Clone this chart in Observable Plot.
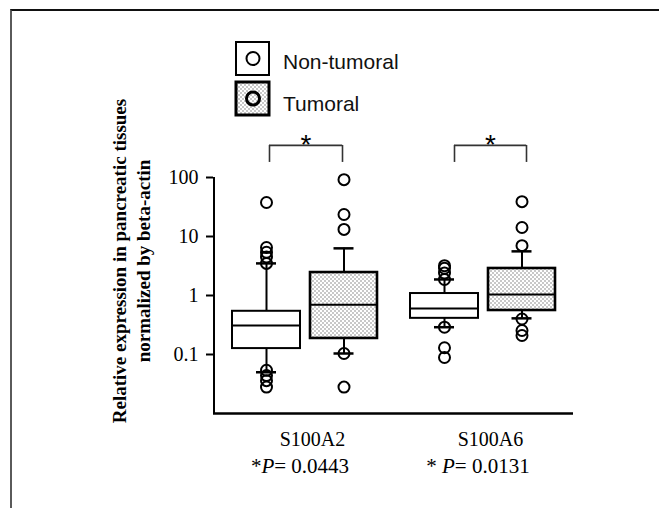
<!DOCTYPE html>
<html><head><meta charset="utf-8">
<script src="https://cdn.jsdelivr.net/npm/d3@7"></script>
<script src="https://cdn.jsdelivr.net/npm/@observablehq/plot@0.6"></script>
<style>
body{margin:0;background:#fff;}
#wrap{position:relative;width:659px;height:508px;overflow:hidden;font-family:"Liberation Serif","Times New Roman",serif;}
#frame{position:absolute;left:10px;top:9px;width:700px;height:600px;border-top:2px solid #111;border-left:2px solid #5a5a5a;box-sizing:border-box;}
#chart{position:absolute;left:0;top:0;}
#ylab{position:absolute;left:-78px;top:237px;width:420px;height:48px;transform:rotate(-90deg);text-align:center;font:bold 19px/24px "Liberation Serif","Times New Roman",serif;color:#000;white-space:nowrap;}
.leg{position:absolute;left:283px;font:21px "Liberation Sans",Arial,sans-serif;color:#111;line-height:21px;}
.pval{position:absolute;top:456px;font:21px/21px "Liberation Serif","Times New Roman",serif;transform:translateX(-50%);white-space:nowrap;}
#legsvg{position:absolute;left:230px;top:38px;}
</style></head><body>
<div id="wrap">
  <div id="frame"></div>
  <div id="chart"></div>
  <div id="ylab">Relative expression in pancreatic tissues<br>normalized by beta-actin</div>
  <svg id="legsvg" width="50" height="82"></svg>
  <div class="leg" id="leg0" style="top:51px"></div>
  <div class="leg" id="leg1" style="top:93px"></div>
</div>
<script>
// ---------- data ----------
const genes = ["S100A2", "S100A6"];
const pValues = ["0.0443", "0.0131"];
const pStars = ["*", "* "];
const tissues = ["Non-tumoral", "Tumoral"];
const yTicks = [100, 10, 1, 0.1];

// box statistics, one value per gene (S100A2, S100A6)
const nonQ1 = [0.126, 0.41];
const nonMedian = [0.31, 0.60];
const nonQ3 = [0.54, 1.08];
const nonLow = [0.05, 0.29];
const nonHigh = [3.5, 1.87];

const tumQ1 = [0.187, 0.557];
const tumMedian = [0.70, 1.04];
const tumQ3 = [2.45, 2.87];
const tumLow = [0.104, 0.41];
const tumHigh = [6.3, 5.6];

// individual points drawn as circles
const nonPointsA2 = [37.7, 6.5, 5.4, 4.5, 3.5, 0.054, 0.044, 0.036, 0.028];
const tumPointsA2 = [92, 23.6, 13.2, 0.104, 0.028];
const nonPointsA6 = [3.2, 2.9, 2.4, 1.87, 0.29, 0.13, 0.089];
const tumPointsA6 = [39, 14.2, 7.0, 0.40, 0.255, 0.21];

// significance bracket span (value units)
const bracketLow = 180;
const bracketHigh = 350;
const bracketLabel = "*";

// ---------- tables ----------
const boxes = [];
genes.forEach((g, i) => {
  boxes.push({gene: g, tissue: tissues[0], q1: nonQ1[i], median: nonMedian[i], q3: nonQ3[i], lo: nonLow[i], hi: nonHigh[i]});
  boxes.push({gene: g, tissue: tissues[1], q1: tumQ1[i], median: tumMedian[i], q3: tumQ3[i], lo: tumLow[i], hi: tumHigh[i]});
});
const points = [];
nonPointsA2.forEach(v => points.push({gene: genes[0], tissue: tissues[0], value: v}));
tumPointsA2.forEach(v => points.push({gene: genes[0], tissue: tissues[1], value: v}));
nonPointsA6.forEach(v => points.push({gene: genes[1], tissue: tissues[0], value: v}));
tumPointsA6.forEach(v => points.push({gene: genes[1], tissue: tissues[1], value: v}));
const brackets = genes.map(g => ({gene: g, lo: bracketLow, hi: bracketHigh, label: bracketLabel}));

// ---------- layout (styling only) ----------
const half = 80; // half band width in px
const style = {
  "Non-tumoral": {dx: -38, boxL: 8, boxR: 84, fill: "white", sw: 2},
  "Tumoral": {dx: 39.5, boxL: 86, boxR: 7, fill: "url(#stipple)", sw: 2.6}
};
const capHalf = 10;
const bracketStyle = {"S100A2": {l: -35, r: 38}, "S100A6": {l: -28, r: 44}};

const marks = [];
// axis lines
marks.push(Plot.ruleY([0.01], {stroke: "#000", strokeWidth: 2.5}));
marks.push(Plot.rect([0], {y1: 0.01, y2: 100, insetRight: 358, fill: "#000"}));
marks.push(Plot.axisY({ticks: yTicks, tickFormat: d => String(d), tickSize: 7, tickPadding: 8, label: null, strokeWidth: 2, fontSize: 20}));

for (const t of tissues) {
  const s = style[t];
  const bx = boxes.filter(d => d.tissue === t);
  const pts = points.filter(d => d.tissue === t);
  marks.push(Plot.barY(bx, {x: "gene", y1: "q1", y2: "q3", insetLeft: s.boxL, insetRight: s.boxR, fill: s.fill, stroke: "#000", strokeWidth: s.sw}));
  marks.push(Plot.tickY(bx, {x: "gene", y: "median", insetLeft: s.boxL, insetRight: s.boxR, stroke: "#000", strokeWidth: 2}));
  marks.push(Plot.ruleX(bx, {x: "gene", y1: "q3", y2: "hi", dx: s.dx, stroke: "#000", strokeWidth: 2}));
  marks.push(Plot.ruleX(bx, {x: "gene", y1: "lo", y2: "q1", dx: s.dx, stroke: "#000", strokeWidth: 2}));
  marks.push(Plot.tickY(bx, {x: "gene", y: "hi", insetLeft: half + s.dx - capHalf, insetRight: half - s.dx - capHalf, stroke: "#000", strokeWidth: 2.5}));
  marks.push(Plot.tickY(bx, {x: "gene", y: "lo", insetLeft: half + s.dx - capHalf, insetRight: half - s.dx - capHalf, stroke: "#000", strokeWidth: 2.5}));
  marks.push(Plot.dot(pts, {x: "gene", y: "value", dx: s.dx, r: 5.5, stroke: "#000", strokeWidth: 2, fill: "none"}));
}

for (const g of genes) {
  const b = bracketStyle[g];
  const br = brackets.filter(d => d.gene === g);
  marks.push(Plot.ruleX(br, {x: "gene", y1: "lo", y2: "hi", dx: b.l, stroke: "#333", strokeWidth: 1.6}));
  marks.push(Plot.ruleX(br, {x: "gene", y1: "lo", y2: "hi", dx: b.r, stroke: "#333", strokeWidth: 1.6}));
  marks.push(Plot.tickY(br, {x: "gene", y: "hi", insetLeft: half + b.l, insetRight: half - b.r, stroke: "#333", strokeWidth: 1.6}));
  marks.push(Plot.text(br, {x: "gene", y: "hi", text: "label", dx: (b.l + b.r) / 2, dy: 9, lineAnchor: "bottom", fontSize: 28, fontFamily: "Liberation Sans, Arial, sans-serif"}));
}

// gene names below axis
marks.push(Plot.text(genes, {x: d => d, text: d => d, frameAnchor: "bottom", lineAnchor: "bottom", dy: 32, dx: 8, fontSize: 20}));

const plot = Plot.plot({
  width: 659,
  height: 508,
  marginTop: 177,
  marginBottom: 95,
  marginLeft: 213,
  marginRight: 86,
  style: {fontFamily: "Liberation Serif, Times New Roman, serif", fontSize: "20px", background: "transparent", color: "#000"},
  x: {type: "band", domain: genes, paddingInner: 0.1, paddingOuter: 0.061, axis: null},
  y: {type: "log", domain: [0.01, 100], axis: null},
  marks
});

// stipple pattern for the tumoral boxes (staggered dots)
const defs = d3.select(plot).insert("defs", ":first-child");
const pat = defs.append("pattern").attr("id", "stipple").attr("patternUnits", "userSpaceOnUse").attr("width", 4).attr("height", 4);
pat.append("rect").attr("width", 4).attr("height", 4).attr("fill", "#fff");
pat.append("circle").attr("cx", 1).attr("cy", 1).attr("r", 0.75).attr("fill", "#777");
pat.append("circle").attr("cx", 3).attr("cy", 3).attr("r", 0.75).attr("fill", "#777");

document.getElementById("chart").appendChild(plot);

// P values under gene names, positioned through the x scale
const xs = plot.scale("x");
genes.forEach((g, i) => {
  const cx = xs.apply(g) + xs.bandwidth / 2;
  const div = document.createElement("div");
  div.className = "pval";
  div.style.left = (cx - 4) + "px";
  div.innerHTML = pStars[i].replace(" ", "&nbsp;") + "<i>P</i>= " + pValues[i];
  document.getElementById("wrap").appendChild(div);
});

// legend
document.getElementById("leg0").textContent = tissues[0];
document.getElementById("leg1").textContent = tissues[1];
const leg = d3.select("#legsvg");
tissues.forEach((t, i) => {
  const y0 = 4 + i * 40;
  leg.append("rect").attr("x", 6).attr("y", y0).attr("width", 33).attr("height", 33)
    .attr("fill", i === 0 ? "#fff" : "url(#stipple)").attr("stroke", "#000").attr("stroke-width", i === 0 ? 2 : 3);
  leg.append("circle").attr("cx", 23).attr("cy", y0 + 16.5).attr("r", 6.5).attr("fill", "none").attr("stroke", "#000").attr("stroke-width", i === 0 ? 2 : 3);
});
</script>
</body></html>
